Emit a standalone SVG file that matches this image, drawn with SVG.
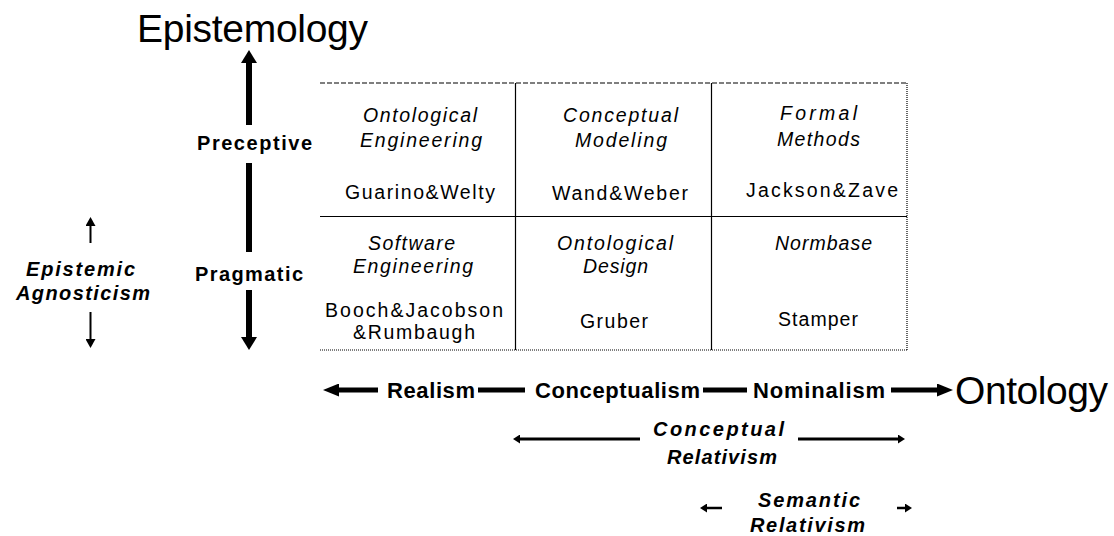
<svg xmlns="http://www.w3.org/2000/svg" width="1114" height="536" viewBox="0 0 1114 536">
<style>
text{font-family:"Liberation Sans",Arial,sans-serif;fill:#000}
.big{font-size:39px}
.b{font-size:20px;font-weight:bold}
.bi{font-size:20px;font-weight:bold;font-style:italic}
.bb{font-size:22px;font-weight:bold}
.it{font-size:19.5px;font-style:italic}
.rg{font-size:19.5px}
.grid{stroke:#000;stroke-width:1.2;fill:none}
.arr{stroke:#000;fill:none}
</style>
<defs>
<marker id="bigHead" markerUnits="userSpaceOnUse" viewBox="0 0 13 16" refX="0" refY="8" markerWidth="13" markerHeight="16" orient="auto"><path d="M0,0 L13,8 L0,16 z" fill="#000"/></marker>
<marker id="medHead" markerUnits="userSpaceOnUse" viewBox="0 0 16 13" refX="0" refY="6.5" markerWidth="16" markerHeight="13" orient="auto"><path d="M0,0 L16,6.5 L0,13 z" fill="#000"/></marker>
<marker id="smallHead" markerUnits="userSpaceOnUse" viewBox="0 0 7 9" refX="0" refY="4.5" markerWidth="7" markerHeight="9" orient="auto"><path d="M0,0 L7,4.5 L0,9 z" fill="#000"/></marker>
<marker id="epHead" markerUnits="userSpaceOnUse" viewBox="0 0 9 10" refX="0" refY="5" markerWidth="9" markerHeight="10" orient="auto"><path d="M0,0 L9,5 L0,10 z" fill="#000"/></marker>
</defs>
<rect width="1114" height="536" fill="#fff"/>

<g id="matrix">
<line class="grid" x1="320" y1="83" x2="907" y2="83" stroke-dasharray="5 2"/>
<line class="grid" x1="320" y1="216.5" x2="907" y2="216.5"/>
<line class="grid" x1="320" y1="350" x2="907" y2="350" stroke-dasharray="1 1"/>
<line class="grid" x1="907" y1="83" x2="907" y2="350" stroke-dasharray="1 1"/>
<line class="grid" x1="515.5" y1="83" x2="515.5" y2="350"/>
<line class="grid" x1="711.5" y1="83" x2="711.5" y2="350"/>
</g>

<g id="connectors">
<line class="arr" stroke-width="6" x1="249" y1="125" x2="249" y2="63" marker-end="url(#bigHead)"/>
<line class="arr" stroke-width="6" x1="249" y1="163" x2="249" y2="252"/>
<line class="arr" stroke-width="6" x1="249" y1="290" x2="249" y2="337" marker-end="url(#bigHead)"/>
<line class="arr" stroke-width="2" x1="90.5" y1="243" x2="90.5" y2="226" marker-end="url(#epHead)"/>
<line class="arr" stroke-width="2" x1="90.5" y1="312" x2="90.5" y2="339" marker-end="url(#epHead)"/>
<line class="arr" stroke-width="5" x1="378" y1="390" x2="339" y2="390" marker-end="url(#medHead)"/>
<line class="arr" stroke-width="5" x1="478" y1="390" x2="525" y2="390"/>
<line class="arr" stroke-width="5" x1="703" y1="390" x2="747" y2="390"/>
<line class="arr" stroke-width="5" x1="891" y1="390" x2="937" y2="390" marker-end="url(#medHead)"/>
<line class="arr" stroke-width="3" x1="640" y1="439" x2="520" y2="439" marker-end="url(#smallHead)"/>
<line class="arr" stroke-width="3" x1="798" y1="439" x2="898" y2="439" marker-end="url(#smallHead)"/>
<line class="arr" stroke-width="2.5" x1="722" y1="508" x2="707" y2="508" marker-end="url(#smallHead)"/>
<line class="arr" stroke-width="2.5" x1="897" y1="508" x2="905" y2="508" marker-end="url(#smallHead)"/>
</g>

<g id="epistemology"><text class="big" x="137" y="42" textLength="231">Epistemology</text></g>
<g id="ontology"><text class="big" x="955" y="404" textLength="153">Ontology</text></g>
<g id="preceptive"><text class="b" x="197" y="150" textLength="115">Preceptive</text></g>
<g id="pragmatic"><text class="b" x="195" y="281" textLength="108">Pragmatic</text></g>
<g id="epistemic-agnosticism">
<text class="bi" x="26" y="276" textLength="109">Epistemic</text>
<text class="bi" x="16" y="300" textLength="134">Agnosticism</text>
</g>
<g id="realism"><text class="bb" x="387" y="398" textLength="88">Realism</text></g>
<g id="conceptualism"><text class="bb" x="535" y="398" textLength="165">Conceptualism</text></g>
<g id="nominalism"><text class="bb" x="753" y="398" textLength="132">Nominalism</text></g>
<g id="conceptual-relativism">
<text class="bi" x="653" y="436" textLength="131">Conceptual</text>
<text class="bi" x="667" y="464" textLength="110">Relativism</text>
</g>
<g id="semantic-relativism">
<text class="bi" x="758" y="507" textLength="102">Semantic</text>
<text class="bi" x="750" y="532" textLength="115">Relativism</text>
</g>

<g id="cell-ontological-engineering">
<text class="it" x="363" y="122" textLength="114">Ontological</text>
<text class="it" x="360" y="147" textLength="122">Engineering</text>
<text class="rg" x="345" y="199" textLength="150">Guarino&amp;Welty</text>
</g>
<g id="cell-conceptual-modeling">
<text class="it" x="563" y="122" textLength="115">Conceptual</text>
<text class="it" x="575" y="147" textLength="92">Modeling</text>
<text class="rg" x="552" y="200" textLength="136">Wand&amp;Weber</text>
</g>
<g id="cell-formal-methods">
<text class="it" x="780" y="120" textLength="77">Formal</text>
<text class="it" x="777" y="146" textLength="83">Methods</text>
<text class="rg" x="746" y="197" textLength="152">Jackson&amp;Zave</text>
</g>
<g id="cell-software-engineering">
<text class="it" x="368" y="250" textLength="87">Software</text>
<text class="it" x="353" y="273" textLength="120">Engineering</text>
<text class="rg" x="325" y="317" textLength="178">Booch&amp;Jacobson</text>
<text class="rg" x="353" y="339" textLength="122">&amp;Rumbaugh</text>
</g>
<g id="cell-ontological-design">
<text class="it" x="557" y="250" textLength="116">Ontological</text>
<text class="it" x="583" y="273" textLength="65">Design</text>
<text class="rg" x="580" y="328" textLength="68">Gruber</text>
</g>
<g id="cell-normbase">
<text class="it" x="775" y="250" textLength="97">Normbase</text>
<text class="rg" x="778" y="326" textLength="80">Stamper</text>
</g>
</svg>
